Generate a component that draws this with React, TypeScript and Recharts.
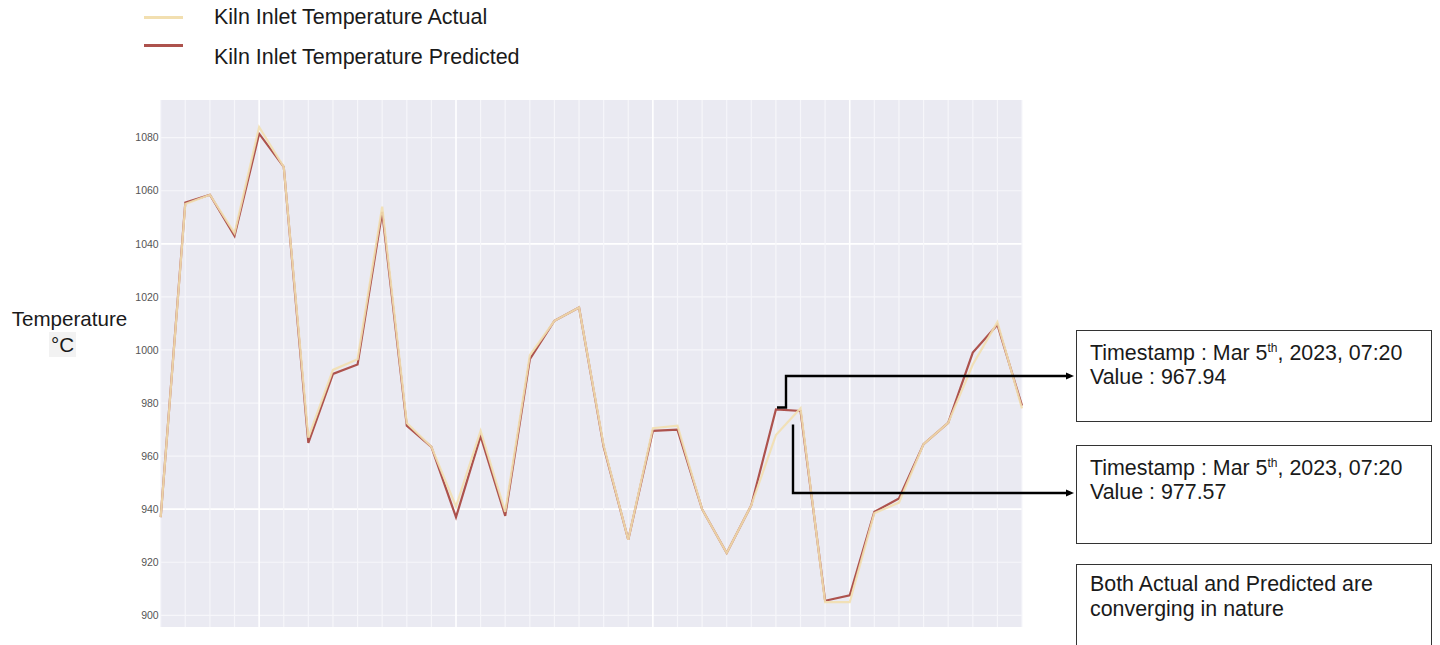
import React from "react";
import { LineChart, Line, XAxis, YAxis, ReferenceLine, ReferenceArea, Legend } from "recharts";

const categories: number[] = Array.from({ length: 36 }, (_, i) => i);
const actual: number[] = [937, 1055, 1058.5, 1044, 1084, 1069, 967, 992.5, 996.5, 1054, 972.5, 963.5, 941, 969.5, 939, 998, 1011, 1016, 964, 928.5, 970.5, 971.5, 940, 923.5, 941.5, 967.94, 978, 905, 905, 938.5, 942.5, 964.5, 972.5, 994.5, 1010.5, 978];
const predicted: number[] = [937, 1055.5, 1058.5, 1043, 1081.5, 1069, 965, 991, 994.5, 1052, 971.5, 963.5, 937, 967.5, 937.5, 996.5, 1011, 1016, 963.5, 928.5, 969.5, 970, 940, 923.5, 941.5, 977.57, 977, 905.5, 907.5, 939, 944, 964.5, 972.5, 999, 1009.5, 979];
const yTicks: number[] = [900, 920, 940, 960, 980, 1000, 1020, 1040, 1060, 1080];
const majorY: number[] = [940, 1040];
const majorX: number[] = [4, 12, 20, 28];
const Y_MIN = 895.6;
const Y_MAX = 1094.2;

const data = categories.map((c, i) => ({ idx: c, actual: actual[i], predicted: predicted[i] }));

const FONT = '"Liberation Sans", Arial, sans-serif';
const ACTUAL_COLOR = "#f2dfb0";
const PRED_COLOR = "#ad524d";

const LegendContent = (props: any) => {
  const payload = props.payload || [];
  const order = ["Kiln Inlet Temperature Actual", "Kiln Inlet Temperature Predicted"];
  const items = order.map((n) => payload.find((p: any) => p.value === n)).filter(Boolean);
  return (
    <div style={{ position: "relative", width: 600, height: 80, fontFamily: FONT }}>
      {items.map((p: any, i: number) => (
        <React.Fragment key={p.value}>
          <div style={{ position: "absolute", left: 144, top: (i === 0 ? 17 : 45) - 1.5, width: 39, height: 3, background: p.color }} />
          <div style={{ position: "absolute", left: 214, top: i === 0 ? 5 : 45, fontSize: 21.5, lineHeight: "24px", color: "#1a1a1a", whiteSpace: "nowrap" }}>{p.value}</div>
        </React.Fragment>
      ))}
    </div>
  );
};

const boxStyle: React.CSSProperties = { position: "absolute", left: 1076, width: 356, border: "1.3px solid #333", boxSizing: "border-box" };
const textStyle: React.CSSProperties = { position: "absolute", left: 1090, fontSize: 21.4, lineHeight: "24px", color: "#1a1a1a", whiteSpace: "nowrap" };
const Sup = () => <sup style={{ fontSize: 12, lineHeight: 0 }}>th</sup>;

export default function App() {
  return (
    <div style={{ position: "absolute", left: 0, top: 0, width: 1440, height: 645, background: "#fff", overflow: "hidden", fontFamily: FONT }}>
      <LineChart width={1440} height={645} data={data} margin={{ top: 100, right: 418, bottom: 18, left: 120.7 }}>
        <XAxis dataKey="idx" type="number" domain={[0, 35]} hide />
        <YAxis
          type="number"
          domain={[Y_MIN, Y_MAX]}
          ticks={yTicks}
          allowDataOverflow
          width={40}
          axisLine={false}
          tickLine={false}
          tickSize={0}
          tickMargin={2}
          tick={{ fontSize: 10.5, fill: "#555555", fontFamily: FONT }}
        />
        <ReferenceArea x1={0} x2={35} y1={Y_MIN} y2={Y_MAX} fill="#eaeaf2" fillOpacity={1} stroke="none" ifOverflow="visible" />
        {yTicks.map((t) => (
          <ReferenceLine key={"y" + t} y={t} stroke={majorY.includes(t) ? "#ffffff" : "#f6f6fa"} strokeWidth={majorY.includes(t) ? 1.8 : 1.2} />
        ))}
        {categories.map((c) => (
          <ReferenceLine key={"x" + c} x={c} stroke={majorX.includes(c) ? "#ffffff" : "#f6f6fa"} strokeWidth={majorX.includes(c) ? 1.6 : 1.2} />
        ))}
        <Line type="linear" dataKey="predicted" name="Kiln Inlet Temperature Predicted" stroke={PRED_COLOR} strokeWidth={2.2} dot={false} isAnimationActive={false} />
        <Line type="linear" dataKey="actual" name="Kiln Inlet Temperature Actual" stroke={ACTUAL_COLOR} strokeWidth={2.2} strokeOpacity={0.9} dot={false} isAnimationActive={false} />
        <Legend
          layout="horizontal"
          verticalAlign="middle"
          align="center"
          content={<LegendContent />}
          wrapperStyle={{ position: "absolute", left: 0, top: 0, width: 600, height: 80 }}
        />
      </LineChart>

      <div style={{ position: "absolute", left: 0, top: 307, width: 139, textAlign: "center", fontSize: 20.6, lineHeight: "23px", color: "#1a1a1a" }}>Temperature</div>
      <div style={{ position: "absolute", left: 49, top: 332, width: 27, height: 25, background: "#f2f2f2" }} />
      <div style={{ position: "absolute", left: 40, top: 333, width: 45, textAlign: "center", fontSize: 20.6, lineHeight: "24px", color: "#1a1a1a" }}>°C</div>

      <svg width={1440} height={645} style={{ position: "absolute", left: 0, top: 0, pointerEvents: "none" }}>
        <path d="M777 407.5 H786 V376 H1068" fill="none" stroke="#000" strokeWidth={2.4} />
        <polygon points="1066,372.5 1074,376 1066,379.5" fill="#000" />
        <path d="M793 424.5 V493 H1068" fill="none" stroke="#000" strokeWidth={2.4} />
        <polygon points="1066,489.5 1074,493 1066,496.5" fill="#000" />
      </svg>

      <div style={{ ...boxStyle, top: 330, height: 92 }} />
      <div style={{ ...textStyle, top: 341 }}>Timestamp : Mar 5<Sup />, 2023, 07:20</div>
      <div style={{ ...textStyle, top: 365 }}>Value : 967.94</div>

      <div style={{ ...boxStyle, top: 445, height: 99 }} />
      <div style={{ ...textStyle, top: 456 }}>Timestamp : Mar 5<Sup />, 2023, 07:20</div>
      <div style={{ ...textStyle, top: 480 }}>Value : 977.57</div>

      <div style={{ ...boxStyle, top: 564, height: 100 }} />
      <div style={{ ...textStyle, top: 572 }}>Both Actual and Predicted are</div>
      <div style={{ ...textStyle, top: 597 }}>converging in nature</div>
    </div>
  );
}
